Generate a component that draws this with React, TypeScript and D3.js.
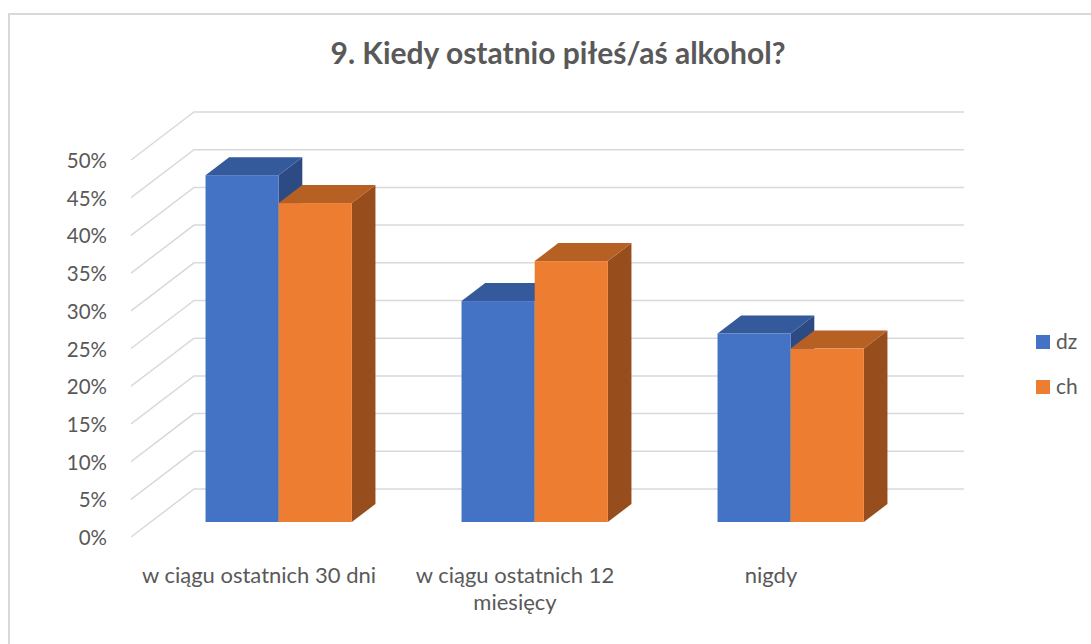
import React, { useEffect, useRef } from 'react';
import * as d3 from 'd3';

// dane
const categories = ['w ciągu ostatnich 30 dni', 'w ciągu ostatnich 12 miesięcy', 'nigdy'];
const seriesNames = ['dz', 'ch'];
const dzValues = [0.46, 0.293, 0.25];
const chValues = [0.423, 0.346, 0.23];
const yTicks = [0, 0.05, 0.1, 0.15, 0.2, 0.25, 0.3, 0.35, 0.4, 0.45, 0.5];
const title = '9. Kiedy ostatnio piłeś/aś alkohol?';

const W = 1091;
const H = 644;
const FONT = 'Lato, "Open Sans", sans-serif';
const TEXT = '#595959';
const GRID = '#D9D9D9';

const colors = [
  { front: '#4472C4', top: '#345A9C', side: '#2C4B84' },
  { front: '#ED7D31', top: '#B66024', side: '#984D1C' },
];

const App = () => {
  const ref = useRef<SVGSVGElement | null>(null);

  useEffect(() => {
    const svg = d3.select(ref.current);
    svg.selectAll('*').remove();

    // rzut ukośny: głębokość przesuwa w prawo i w górę
    const depthDx = 63;
    const depthDy = -48;
    const x0 = d3.scaleBand<number>().domain(d3.range(categories.length)).range([131, 899]).paddingInner(0).paddingOuter(0);
    const y = d3.scaleLinear().domain([0, 0.5]).range([537, 160]);
    const proj = (px: number, v: number, f: number): [number, number] => [px + depthDx * f, y(v) + depthDy * f];

    // ramka
    svg.append('rect')
      .attr('x', 9).attr('y', 14)
      .attr('width', W).attr('height', H + 50)
      .attr('fill', 'white')
      .attr('stroke', GRID).attr('stroke-width', 2);

    svg.append('text')
      .attr('x', 558).attr('y', 64)
      .attr('text-anchor', 'middle')
      .attr('font-family', FONT).attr('font-weight', 'bold').attr('font-size', 30)
      .attr('fill', TEXT)
      .text(title);

    // siatka: ściana boczna i tylna
    const xLeft = x0.range()[0];
    const xRight = x0.range()[1];
    const grid = svg.append('g').attr('stroke', GRID).attr('stroke-width', 1.5).attr('fill', 'none');
    yTicks.forEach(t => {
      const a = proj(xLeft, t, 0);
      const b = proj(xLeft, t, 1);
      const c = proj(xRight + 2, t, 1);
      grid.append('path').attr('d', `M${a[0]},${a[1]}L${b[0]},${b[1]}L${c[0]},${c[1]}`);
    });

    svg.append('g')
      .selectAll('text')
      .data(yTicks)
      .enter().append('text')
      .attr('x', 107)
      .attr('y', d => y(d) + 8)
      .attr('text-anchor', 'end')
      .attr('font-family', FONT).attr('font-size', 20.5)
      .attr('fill', TEXT)
      .text(d => d3.format('.0%')(d));

    // słupki
    const bw = x0.bandwidth() / 3.5;
    const f1 = 0.3125;
    const f2 = 0.6875;
    const series = [dzValues, chValues];
    const bars = svg.append('g');
    categories.forEach((_, i) => {
      series.forEach((vals, s) => {
        const v = vals[i];
        const xl = (x0(i) as number) + bw * 0.75 + s * bw;
        const xr = xl + bw;
        const pts = (arr: [number, number][]) => arr.map(p => p.join(',')).join(' ');
        const fl0 = proj(xl, 0, f1);
        const flt = proj(xl, v, f1), frt = proj(xr, v, f1);
        const blt = proj(xl, v, f2), brt = proj(xr, v, f2);
        const fr0 = proj(xr, 0, f1), br0 = proj(xr, 0, f2);
        bars.append('polygon')
          .attr('points', pts([fr0, frt, brt, br0]))
          .attr('fill', colors[s].side);
        bars.append('polygon')
          .attr('points', pts([flt, frt, brt, blt]))
          .attr('fill', colors[s].top);
        bars.append('rect')
          .attr('x', flt[0]).attr('y', flt[1])
          .attr('width', bw).attr('height', fl0[1] - flt[1])
          .attr('fill', colors[s].front);
      });
    });

    // etykiety kategorii z zawijaniem
    const catG = svg.append('g');
    categories.forEach((c, i) => {
      const cx = (x0(i) as number) + x0.bandwidth() / 2;
      const t = catG.append('text')
        .attr('text-anchor', 'middle')
        .attr('font-family', FONT).attr('font-size', 22)
        .attr('fill', TEXT);
      const words = c.split(' ');
      let line: string[] = [];
      let n = 0;
      let ts = t.append('tspan').attr('x', cx).attr('y', 583);
      words.forEach(w => {
        line.push(w);
        ts.text(line.join(' '));
        if ((ts.node() as SVGTSpanElement).getComputedTextLength() > 250 && line.length > 1) {
          line.pop();
          ts.text(line.join(' '));
          line = [w];
          n += 1;
          ts = t.append('tspan').attr('x', cx).attr('y', 583 + n * 27).text(w);
        }
      });
    });

    // legenda
    const legend = svg.append('g');
    seriesNames.forEach((name, s) => {
      legend.append('rect')
        .attr('x', 1036).attr('y', 335 + s * 45)
        .attr('width', 14).attr('height', 14)
        .attr('fill', colors[s].front);
      legend.append('text')
        .attr('x', 1056).attr('y', 349 + s * 45)
        .attr('font-family', FONT).attr('font-size', 21)
        .attr('fill', TEXT)
        .text(name);
    });
  }, []);

  return (
    <svg ref={ref} width={W} height={H} style={{ position: 'absolute', left: 0, top: 0 }} />
  );
};

export default App;
